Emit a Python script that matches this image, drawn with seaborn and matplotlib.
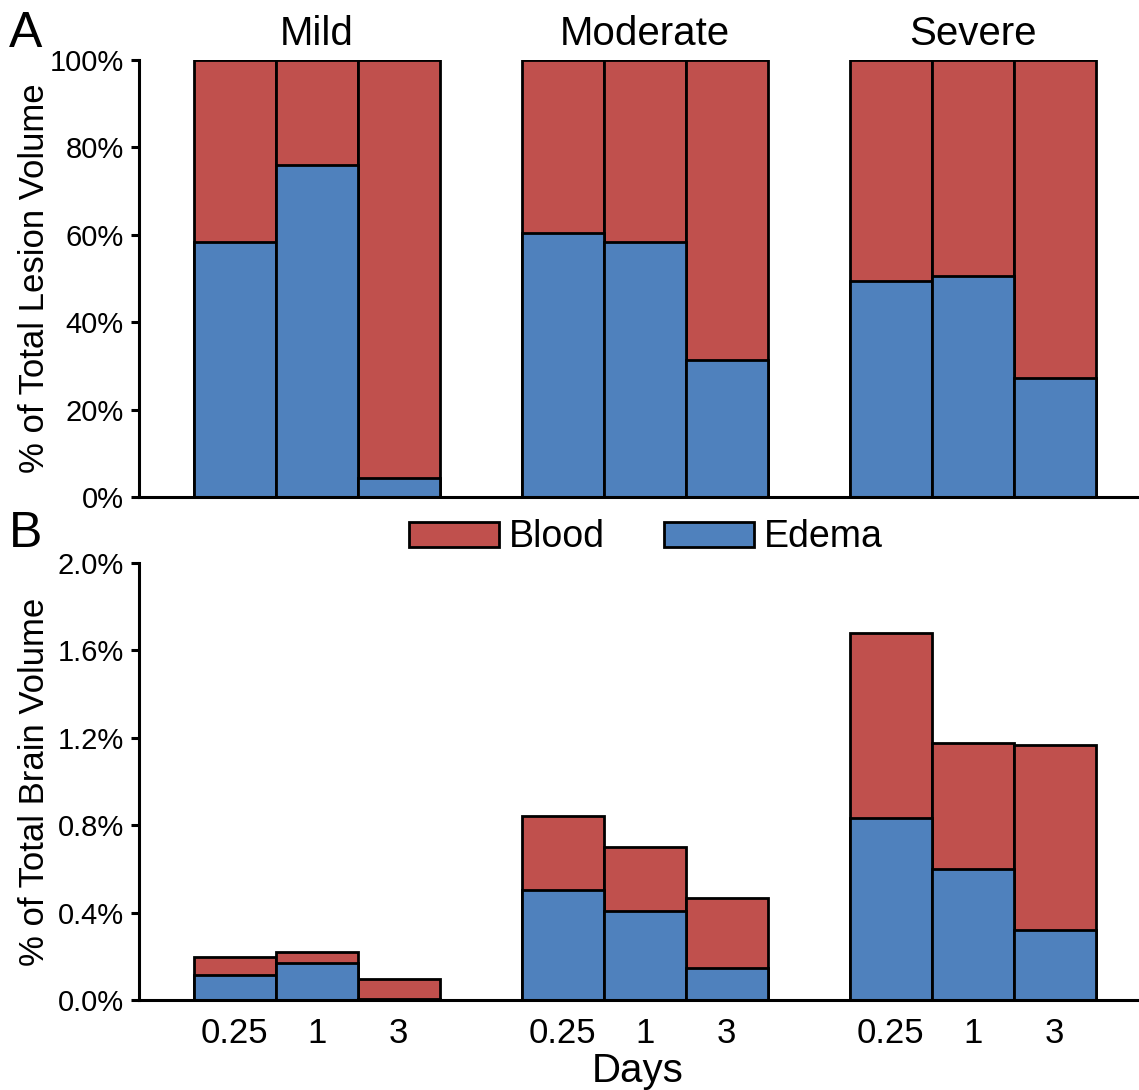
import matplotlib
matplotlib.use('Agg')
import matplotlib.pyplot as plt
from matplotlib.patches import Patch
from matplotlib.ticker import FuncFormatter
import seaborn as sns
import pandas as pd
import numpy as np

sns.set_style("ticks")
plt.rcParams['font.family'] = ['Liberation Sans', 'DejaVu Sans']
plt.rcParams.update({'text.color': 'black', 'axes.labelcolor': 'black',
                     'xtick.color': 'black', 'ytick.color': 'black'})

# data
severity = ['Mild', 'Moderate', 'Severe']
days = ['0.25', '1', '3']
edema_pct_lesion = [58.4, 76.0, 4.3, 60.4, 58.4, 31.4, 49.4, 50.6, 27.2]   # % of lesion, blood = rest
lesion_total = [100, 100, 100, 100, 100, 100, 100, 100, 100]
edema_pct_brain = [0.113, 0.168, 0.005, 0.505, 0.406, 0.148, 0.831, 0.597, 0.318]
total_pct_brain = [0.197, 0.219, 0.097, 0.840, 0.701, 0.465, 1.680, 1.174, 1.166]

blood_col = '#C0504D'
edema_col = '#4F81BD'

rows = []
for gi, sev in enumerate(severity):
    for di, d in enumerate(days):
        k = gi * 3 + di
        rows.append({'severity': sev, 'day': d, 'pos': gi * 4 + di,
                     'lesion_total': lesion_total[k], 'lesion_edema': edema_pct_lesion[k],
                     'brain_total': total_pct_brain[k], 'brain_edema': edema_pct_brain[k]})
df = pd.DataFrame(rows)

fig = plt.figure(figsize=(11.39, 10.9), dpi=100)
axA = fig.add_axes([0.122, 0.544, 0.876, 0.401])
axB = fig.add_axes([0.122, 0.0826, 0.876, 0.401])

bar_kw = dict(x='pos', native_scale=True, width=1.0, edgecolor='black', linewidth=2.0,
              errorbar=None, saturation=1)

for ax, tot, ed in [(axA, 'lesion_total', 'lesion_edema'), (axB, 'brain_total', 'brain_edema')]:
    sns.barplot(data=df, y=tot, color=blood_col, ax=ax, **bar_kw)
    sns.barplot(data=df, y=ed, color=edema_col, ax=ax, **bar_kw)
    sns.despine(ax=ax)
    ax.set_xlim(-1.17, 11.0)
    ax.set_xlabel('')
    for s in ['left', 'bottom']:
        ax.spines[s].set_linewidth(2.2)
        ax.spines[s].set_color('black')
    ax.tick_params(axis='y', length=6, width=2.2, labelsize=21, pad=5, color='black')

# panel A
axA.set_ylim(0, 100)
axA.set_yticks([0, 20, 40, 60, 80, 100])
axA.yaxis.set_major_formatter(FuncFormatter(lambda v, p: f'{v:.0f}%'))
axA.set_xticks([])
axA.set_ylabel('% of Total Lesion Volume', fontsize=25)
axA.yaxis.set_label_coords(-0.088, 0.5)
for gi, sev in enumerate(severity):
    axA.text(gi * 4 + 1, 101.5, sev, ha='center', va='bottom', fontsize=29)

# panel B
axB.set_ylim(0, 2.0)
axB.set_yticks([0, 0.4, 0.8, 1.2, 1.6, 2.0])
axB.yaxis.set_major_formatter(FuncFormatter(lambda v, p: f'{v:.1f}%'))
axB.set_xticks(df['pos'])
axB.set_xticklabels(df['day'])
axB.tick_params(axis='x', length=0, labelsize=25, pad=12)
axB.set_xlabel('Days', fontsize=29, labelpad=2)
axB.set_ylabel('% of Total Brain Volume', fontsize=25)
axB.yaxis.set_label_coords(-0.088, 0.5)

fig.text(0.008, 0.99, 'A', fontsize=36, va='top', ha='left')
fig.text(0.008, 0.531, 'B', fontsize=36, va='top', ha='left')

handles = [Patch(facecolor=blood_col, edgecolor='black', linewidth=2.0, label='Blood'),
           Patch(facecolor=edema_col, edgecolor='black', linewidth=2.0, label='Edema')]
fig.legend(handles=handles, loc='center', bbox_to_anchor=(0.567, 0.507), ncol=2, frameon=False,
           fontsize=27, handlelength=2.4, handleheight=0.65, handletextpad=0.25, columnspacing=1.6)

fig.savefig('out.png', dpi=100)
